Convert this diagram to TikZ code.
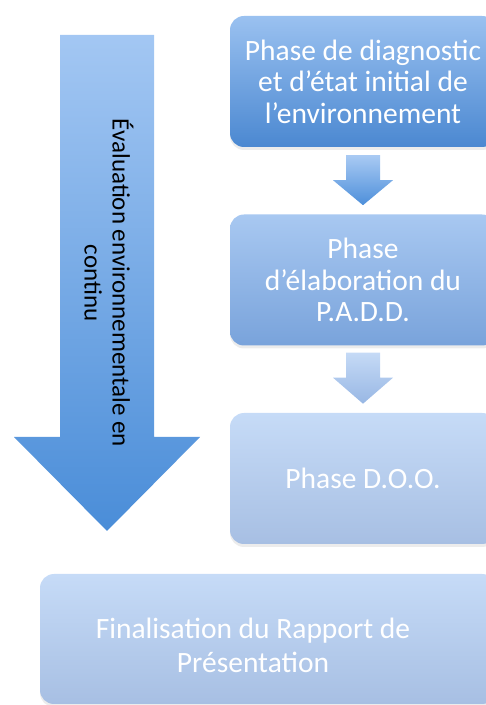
\documentclass[tikz,border=0pt]{standalone}
\usepackage{fontspec}
\setmainfont{Carlito}
\usepackage{tikz}
\usetikzlibrary{positioning,calc,shadows}
\definecolor{boxAtop}{HTML}{9AC1F0}
\definecolor{boxAbot}{HTML}{4B88D1}
\definecolor{boxBtop}{HTML}{A8C8F1}
\definecolor{boxBbot}{HTML}{79A3DB}
\definecolor{boxCtop}{HTML}{C6DBF7}
\definecolor{boxCbot}{HTML}{A7BFE3}
\definecolor{arrAtop}{HTML}{A9CAF3}
\definecolor{arrAbot}{HTML}{4D8FDA}
\definecolor{arrBtop}{HTML}{C5DAF6}
\definecolor{arrBbot}{HTML}{98B7E4}
\definecolor{evaltop}{HTML}{A3C7F3}
\definecolor{evalbot}{HTML}{4A8DD8}
\tikzset{
  phasebox/.style={rectangle, rounded corners=14pt, minimum width=266pt, minimum height=131pt, align=center, text=white, font=\fontsize{29.5}{31.5}\selectfont, inner sep=4pt, drop shadow={opacity=0.15, shadow xshift=0pt, shadow yshift=-3pt}},
  phaseone/.style={phasebox, top color=boxAtop, bottom color=boxAbot},
  phasetwo/.style={phasebox, top color=boxBtop, bottom color=boxBbot},
  phasethree/.style={phasebox, top color=boxCtop, bottom color=boxCbot},
  finalbox/.style={phasethree, minimum width=456pt, minimum height=130pt},
  boxtext/.style={align=center, text=white, font=\fontsize{29.5}{34}\selectfont, inner sep=0pt},
  evaltext/.style={align=center, text=black, font=\fontsize{25}{28}\selectfont, rotate=-90, inner sep=0pt}
}

\begin{document}
\begin{tikzpicture}[x=1pt, y=1pt]
\useasboundingbox (0,0) rectangle (486,705);
\clip (0,0) rectangle (486,705);
% evaluation arrow on the left
\shade[top color=evaltop, bottom color=evalbot]
  (60,670) -- (154,670) -- (154,268) -- (200,268) -- (107,174) -- (14,268) -- (60,268) -- cycle;
\node[evaltext] (evallabel) at (109,422) {Évaluation environnementale en\\continu};
% phases
\node[phaseone] (diag) at (363,623.5) {Phase de diagnostic\\et d’état initial de\\l’environnement};
\node[phasetwo] (padd) at (363,425) {Phase\\d’élaboration du\\P.A.D.D.};
\node[phasethree] (doo) at (363,226.5) {Phase D.O.O.};
\node[finalbox] (finalbg) at (268,66) {};
\node[boxtext] (final) at ([xshift=-15pt, yshift=-6pt]finalbg.center) {Finalisation du Rapport de\\Présentation};
% block arrows between phases
\shade[top color=arrAtop, bottom color=arrAbot]
  ($(diag.south)+(-17,-8)$) -- ($(diag.south)+(17,-8)$) -- ($(diag.south)+(17,-33)$) -- ($(diag.south)+(30,-33)$)
  -- ($(diag.south)+(0,-58)$) -- ($(diag.south)+(-30,-33)$) -- ($(diag.south)+(-17,-33)$) -- cycle;
\shade[top color=arrBtop, bottom color=arrBbot]
  ($(padd.south)+(-17,-7)$) -- ($(padd.south)+(17,-7)$) -- ($(padd.south)+(17,-32)$) -- ($(padd.south)+(30,-32)$)
  -- ($(padd.south)+(0,-58)$) -- ($(padd.south)+(-30,-32)$) -- ($(padd.south)+(-17,-32)$) -- cycle;
\end{tikzpicture}
\end{document}
